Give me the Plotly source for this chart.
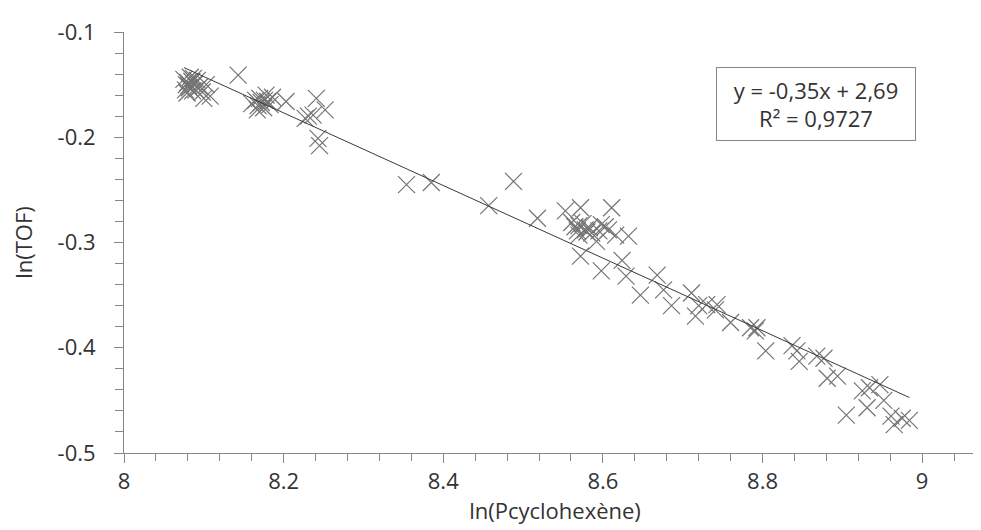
import numpy as np
import plotly.graph_objects as go

# ln(Pcyclohexène)
ln_p = [
    8.075, 8.078, 8.080, 8.082, 8.085, 8.077, 8.083, 8.088, 8.090, 8.092,
    8.079, 8.086, 8.095, 8.081, 8.087, 8.098, 8.103, 8.108, 8.100, 8.143,
    8.160, 8.165, 8.168, 8.170, 8.172, 8.175, 8.178, 8.180, 8.183, 8.176,
    8.186, 8.167, 8.203, 8.227, 8.237, 8.231, 8.241, 8.252, 8.243, 8.245,
    8.354, 8.385, 8.488, 8.457, 8.518,
    8.553, 8.572, 8.611, 8.561, 8.570, 8.578, 8.586, 8.598, 8.607, 8.616,
    8.570, 8.592, 8.632, 8.572, 8.598, 8.624, 8.629, 8.647, 8.565, 8.575,
    8.580, 8.583, 8.603, 8.595, 8.568,
    8.668, 8.676, 8.686, 8.711, 8.720, 8.716, 8.730, 8.741, 8.743, 8.760,
    8.785, 8.793, 8.791, 8.804, 8.837, 8.846, 8.843, 8.868, 8.877, 8.881,
    8.894, 8.905, 8.925, 8.934, 8.931, 8.952, 8.961, 8.965, 8.975, 8.984,
    8.947,
]
# ln(TOF)
ln_tof = [
    -0.145, -0.150, -0.148, -0.153, -0.147, -0.155, -0.143, -0.150, -0.155, -0.146,
    -0.158, -0.156, -0.152, -0.151, -0.144, -0.157, -0.150, -0.161, -0.163, -0.141,
    -0.168, -0.165, -0.170, -0.163, -0.167, -0.172, -0.160, -0.166, -0.169, -0.165,
    -0.162, -0.174, -0.166, -0.182, -0.179, -0.180, -0.163, -0.174, -0.201, -0.208,
    -0.245, -0.243, -0.242, -0.265, -0.277,
    -0.270, -0.267, -0.267, -0.281, -0.284, -0.288, -0.291, -0.283, -0.288, -0.293,
    -0.293, -0.299, -0.294, -0.313, -0.327, -0.317, -0.332, -0.350, -0.285, -0.282,
    -0.290, -0.286, -0.285, -0.289, -0.289,
    -0.331, -0.345, -0.360, -0.348, -0.360, -0.370, -0.359, -0.364, -0.359, -0.376,
    -0.381, -0.381, -0.384, -0.403, -0.398, -0.413, -0.403, -0.408, -0.410, -0.429,
    -0.427, -0.464, -0.441, -0.438, -0.457, -0.450, -0.465, -0.473, -0.467, -0.469,
    -0.435,
]

x_ticks = [8, 8.2, 8.4, 8.6, 8.8, 9]
x_ticklabels = ["8", "8.2", "8.4", "8.6", "8.8", "9"]
y_ticks = [-0.5, -0.4, -0.3, -0.2, -0.1]
y_ticklabels = ["-0.5", "-0.4", "-0.3", "-0.2", "-0.1"]

equation_text = "y = -0,35x + 2,69<br>R² = 0,9727"

x = np.array(ln_p)
y = np.array(ln_tof)
slope, intercept = np.polyfit(x, y, 1)
x_fit = np.array([x.min(), x.max()])
y_fit = slope * x_fit + intercept

FONT = "Open Sans"
TXT = "#333333"
AX = "#868686"
FS = 22

fig = go.Figure()
fig.add_trace(go.Scatter(
    x=ln_p, y=ln_tof, mode="markers",
    marker=dict(symbol="x-thin", size=17, line=dict(width=1.2, color="#747474")),
    showlegend=False, cliponaxis=False,
))
fig.add_trace(go.Scatter(
    x=x_fit, y=y_fit, mode="lines",
    line=dict(color="#3a3a3a", width=1),
    showlegend=False,
))

fig.update_layout(
    width=981, height=530,
    margin=dict(l=116, r=3, t=24, b=85, autoexpand=False),
    paper_bgcolor="white", plot_bgcolor="white",
    font=dict(family=FONT, size=FS, color=TXT),
    xaxis=dict(
        range=[8, 9.08], tickvals=x_ticks, ticktext=x_ticklabels,
        showgrid=False, zeroline=False, showline=True, linecolor=AX, linewidth=1,
        ticks="outside", ticklen=9, tickcolor=AX, tickwidth=1, automargin=False,
        minor=dict(dtick=0.04, tick0=8, ticks="outside", ticklen=7, tickcolor=AX, showgrid=False),
        title=dict(text="ln(Pcyclohexène)", font=dict(size=FS, color=TXT), standoff=6),
        tickfont=dict(size=FS, color=TXT),
    ),
    yaxis=dict(
        range=[-0.5, -0.1], tickvals=y_ticks, ticktext=y_ticklabels,
        showgrid=False, zeroline=False, showline=True, linecolor=AX, linewidth=1,
        ticks="outside", ticklen=9, tickcolor=AX, tickwidth=1, automargin=False,
        minor=dict(dtick=0.02, tick0=-0.5, ticks="outside", ticklen=8, tickcolor=AX, showgrid=False),
        title=dict(text="ln(TOF)", font=dict(size=FS, color=TXT), standoff=22),
        tickfont=dict(size=FS, color=TXT),
        ticklabelstandoff=14,
    ),
    annotations=[dict(
        text=equation_text, xref="paper", yref="paper", x=0.803, y=0.830,
        xanchor="center", yanchor="middle", showarrow=False,
        font=dict(size=FS, color=TXT, family=FONT),
        bordercolor=AX, borderwidth=1, borderpad=4, bgcolor="white",
        width=190, height=64, align="center",
    )],
)

fig.write_html("out.html")
